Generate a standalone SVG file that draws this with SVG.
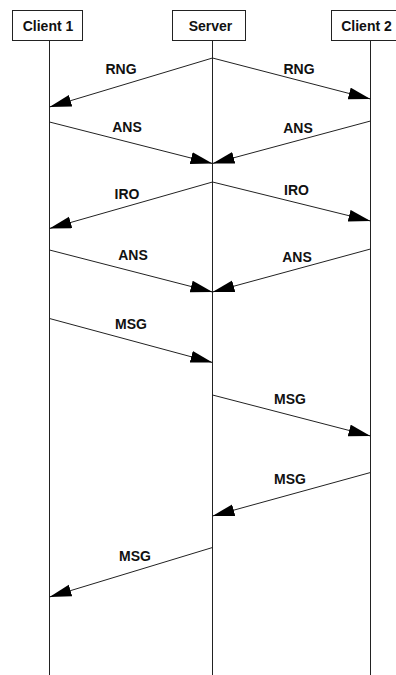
<svg xmlns="http://www.w3.org/2000/svg" width="396" height="675" viewBox="0 0 396 675">
<style>
.box{fill:#fff;stroke:#222;stroke-width:1}
.life{stroke:#222;stroke-width:1;fill:none}
.msg{stroke:#222;stroke-width:1;fill:none;marker-end:url(#ah)}
text{font-family:"Liberation Sans",Arial,sans-serif;font-weight:bold;font-size:14px;fill:#111;text-anchor:middle}
</style>
<defs>
<marker id="ah" markerUnits="userSpaceOnUse" markerWidth="24" markerHeight="14" refX="22" refY="6" orient="auto">
<path d="M0,0 L22,6 L0,12 z" fill="#000"/>
</marker>
</defs>
<g id="client1">
<rect class="box" x="12.5" y="10.5" width="70" height="30"/>
<text x="48" y="31">Client 1</text>
<line class="life" x1="49.5" y1="40.5" x2="49.5" y2="675"/>
</g>
<g id="server">
<rect class="box" x="172.5" y="10.5" width="73" height="30"/>
<text x="210.5" y="31">Server</text>
<line class="life" x1="212.5" y1="40.5" x2="212.5" y2="675"/>
</g>
<g id="client2">
<rect class="box" x="331.5" y="10.5" width="80" height="30"/>
<text x="366.5" y="31">Client 2</text>
<line class="life" x1="370.5" y1="40.5" x2="370.5" y2="675"/>
</g>
<g id="connectors">
<line class="msg" x1="212.5" y1="58" x2="49.5" y2="107"/>
<text x="121" y="74">RNG</text>
<line class="msg" x1="212.5" y1="58" x2="370.5" y2="99"/>
<text x="299" y="74">RNG</text>
<line class="msg" x1="49.5" y1="122" x2="212.5" y2="163.5"/>
<text x="127" y="132">ANS</text>
<line class="msg" x1="370.5" y1="121" x2="212.5" y2="163.5"/>
<text x="298" y="133">ANS</text>
<line class="msg" x1="212.5" y1="182" x2="49.5" y2="228.5"/>
<text x="127" y="199">IRO</text>
<line class="msg" x1="212.5" y1="182" x2="370.5" y2="221"/>
<text x="296.5" y="195">IRO</text>
<line class="msg" x1="49.5" y1="250" x2="212.5" y2="292"/>
<text x="133" y="260">ANS</text>
<line class="msg" x1="370.5" y1="249" x2="212.5" y2="292"/>
<text x="297" y="262">ANS</text>
<line class="msg" x1="49.5" y1="318.5" x2="212.5" y2="362.5"/>
<text x="131" y="328.5">MSG</text>
<line class="msg" x1="212.5" y1="395" x2="370.5" y2="436"/>
<text x="290" y="403.5">MSG</text>
<line class="msg" x1="370.5" y1="472.5" x2="212.5" y2="516"/>
<text x="290" y="484">MSG</text>
<line class="msg" x1="212.5" y1="547.5" x2="49.5" y2="597"/>
<text x="135" y="561">MSG</text>
</g>
</svg>
